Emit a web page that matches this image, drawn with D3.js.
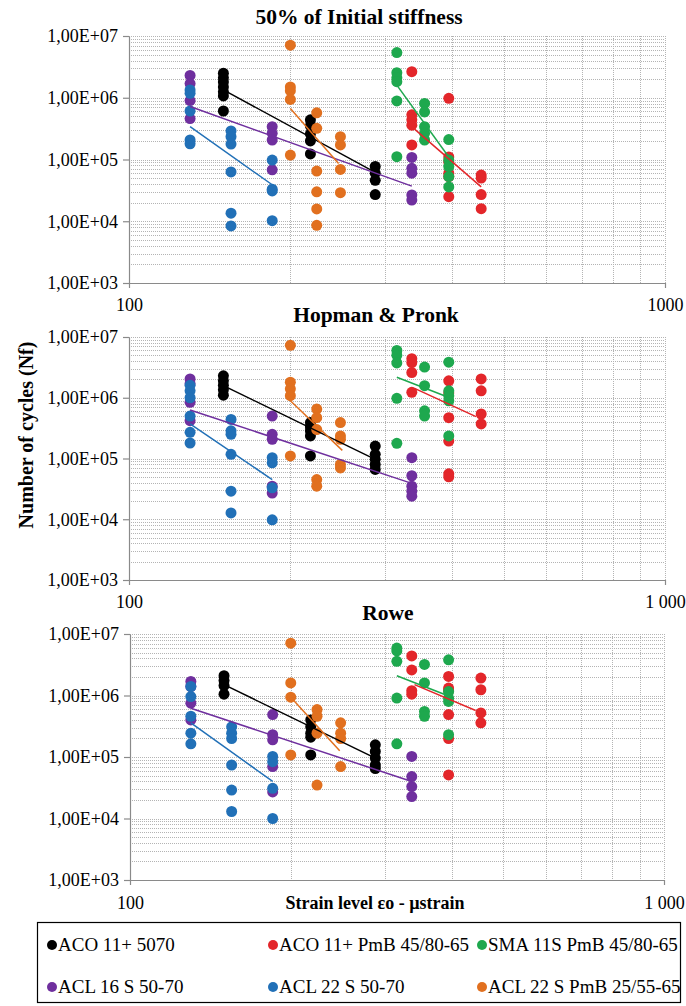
<!DOCTYPE html>
<html><head><meta charset="utf-8">
<script src="https://cdn.jsdelivr.net/npm/d3@7"></script>
<style>
html,body{margin:0;padding:0;background:#fff;}
svg{display:block;}
text{font-family:"Liberation Serif","Times New Roman",serif;fill:#000;}
</style></head><body>
<svg id="chart" width="686" height="1006"></svg>
<script>
// Fatigue results: number of cycles to failure vs. initial strain level, three failure criteria.
const seriesNames = ["ACO 11+ 5070", "ACO 11+ PmB 45/80-65", "SMA 11S PmB 45/80-65",
                     "ACL 16 S 50-70", "ACL 22 S 50-70", "ACL 22 S PmB 25/55-65"];
const panelTitles = ["50% of Initial stiffness", "Hopman & Pronk", "Rowe"];
const yTickValues = [1e3, 1e4, 1e5, 1e6, 1e7];
const xTickValues = [100, 1000];
const xTickLabels = [["100", "1000"], ["100", "1 000"], ["100", "1 000"]];

// [strain (µstrain), Nf] — 50% of initial stiffness
const stiffACO5070 = [[150,2.5e6],[150,2.1e6],[150,1.8e6],[150,1.5e6],[150,1.25e6],[150,1.07e6],[150,6.1e5],
  [218,4.4e5],[218,3.5e5],[218,2.6e5],[218,2.0e5],[218,1.23e5],[288,7.7e4],[288,6.0e4],[288,4.6e4],[288,2.7e4]];
const stiffACOPmB = [[337,2.64e6],[337,5.3e5],[337,4.4e5],[337,3.6e5],[337,1.72e5],
  [395,9.8e5],[395,1.1e5],[395,9.2e4],[395,6.0e4],[395,5.3e4],[395,2.5e4],[454,5.6e4],[454,5.0e4],[454,2.7e4],[454,1.6e4]];
const stiffSMA = [[316,5.4e6],[316,2.55e6],[316,2.1e6],[316,1.82e6],[316,8.9e5],[316,1.11e5],
  [356,8.1e5],[356,5.9e5],[356,3.4e5],[356,2.65e5],[356,2.07e5],[395,2.1e5],[395,9.8e4],[395,7.7e4],[395,5.3e4],[395,3.6e4]];
const stiffACL16 = [[130,2.3e6],[130,1.7e6],[130,9.0e5],[130,4.6e5],[185,3.4e5],[185,2.65e5],[185,2.07e5],[185,6.8e4],
  [337,1.08e5],[337,7.2e4],[337,6.0e4],[337,2.66e4],[337,2.2e4]];
const stiffACL22 = [[130,1.34e6],[130,1.18e6],[130,6.1e5],[130,2.07e5],[130,1.8e5],
  [155,2.9e5],[155,2.34e5],[155,1.78e5],[155,6.3e4],[155,1.35e4],[155,8.4e3],[185,9.8e4],[185,3.3e4],[185,3.1e4],[185,1.02e4]];
const stiffACL22PmB = [[200,7.1e6],[200,1.5e6],[200,1.3e6],[200,9.4e5],[200,1.18e5],
  [224,5.7e5],[224,3.2e5],[224,6.5e4],[224,3.0e4],[224,1.58e4],[224,8.6e3],[248,2.34e5],[248,1.72e5],[248,6.9e4],[248,2.9e4]];
const stiffTrends = [[[150,1.34e6],[288,6.2e4]], [[341,3.1e5],[454,3.6e4]], [[316,1.6e6],[395,1.1e5]],
  [[130,7.2e5],[337,3.7e4]], [[130,3.4e5],[185,3.9e4]], [[200,6.7e5],[246,8.6e4]]];

// Hopman & Pronk
const hpACO5070 = [[150,2.3e6],[150,1.9e6],[150,1.6e6],[150,1.35e6],[150,1.1e6],
  [218,3.9e5],[218,3.3e5],[218,2.85e5],[218,2.35e5],[218,1.1e5],[288,1.6e5],[288,1.17e5],[288,9.7e4],[288,8.0e4],[288,6.6e4]];
const hpACOPmB = [[337,4.4e6],[337,3.8e6],[337,2.6e6],[337,1.23e6],
  [395,1.9e6],[395,1.2e6],[395,4.7e5],[395,1.94e5],[395,5.6e4],[395,5.0e4],[454,2.04e6],[454,1.3e6],[454,5.4e5],[454,3.7e5]];
const hpSMA = [[316,6.0e6],[316,5.0e6],[316,3.75e6],[316,9.8e5],[316,1.78e5],
  [356,3.2e6],[356,1.58e6],[356,6.1e5],[356,5.0e5],[395,3.85e6],[395,1.3e6],[395,1.08e6],[395,8.9e5],[395,2.35e5]];
const hpACL16 = [[130,2.04e6],[130,1.7e6],[130,8.4e5],[130,4.2e5],[185,5.0e5],[185,2.5e5],[185,2.07e5],[185,3.5e4],[185,2.7e4],
  [337,1.03e5],[337,5.2e4],[337,3.5e4],[337,2.9e4],[337,2.4e4]];
const hpACL22 = [[130,1.6e6],[130,1.3e6],[130,1.0e6],[130,5.0e5],[130,2.7e5],[130,1.8e5],
  [155,4.4e5],[155,2.85e5],[155,2.5e5],[155,1.17e5],[155,2.9e4],[155,1.27e4],[185,1.03e5],[185,8.5e4],[185,3.3e4],[185,9.8e3]];
const hpACL22PmB = [[200,7.3e6],[200,1.8e6],[200,1.4e6],[200,1.08e6],[200,1.1e5],
  [224,6.5e5],[224,4.7e5],[224,3.0e5],[224,4.5e4],[224,3.5e4],[248,3.9e5],[248,2.35e5],[248,2.07e5],[248,8.0e4],[248,7.0e4]];
const hpTrends = [[[150,1.58e6],[288,9.7e4]], [[341,1.43e6],[444,4.9e5]], [[316,2.18e6],[391,1.05e6]],
  [[130,6.3e5],[337,3.9e4]], [[130,3.7e5],[185,4.5e4]], [[200,8.9e5],[250,1.36e5]]];

// Rowe
const roweACO5070 = [[150,2.1e6],[150,1.75e6],[150,1.45e6],[150,1.05e6],
  [218,4.0e5],[218,3.1e5],[218,2.44e5],[218,2.1e5],[218,1.08e5],[288,1.58e5],[288,1.23e5],[288,9.6e4],[288,7.4e4],[288,6.5e4]];
const roweACOPmB = [[337,4.4e6],[337,2.6e6],[337,1.2e6],[337,1.05e6],
  [395,2.04e6],[395,1.32e6],[395,1.2e6],[395,4.9e5],[395,2.0e5],[395,5.1e4],[454,1.92e6],[454,1.24e6],[454,5.2e5],[454,3.6e5]];
const roweSMA = [[316,5.9e6],[316,5.3e6],[316,3.6e6],[316,9.1e5],[316,1.64e5],
  [356,3.2e6],[356,1.6e6],[356,5.5e5],[356,4.6e5],[395,3.8e6],[395,1.16e6],[395,9.1e5],[395,8.0e5],[395,2.3e5]];
const roweACL16 = [[130,1.69e6],[130,1.4e6],[130,7.5e5],[130,4.0e5],[185,4.9e5],[185,2.3e5],[185,1.9e5],[185,7.0e4],[185,2.7e4],
  [337,1.02e5],[337,4.8e4],[337,3.3e4],[337,2.27e4]];
const roweACL22 = [[130,1.4e6],[130,9.6e5],[130,4.6e5],[130,2.44e5],[130,1.64e5],
  [155,3.1e5],[155,2.44e5],[155,2.0e5],[155,7.4e4],[155,2.9e4],[155,1.3e4],[185,1.02e5],[185,8.4e4],[185,3.1e4],[185,1.0e4]];
const roweACL22PmB = [[200,7.1e6],[200,1.6e6],[200,9.4e5],[200,1.08e5],
  [224,5.9e5],[224,4.6e5],[224,2.44e5],[224,3.5e4],[248,3.6e5],[248,2.44e5],[248,2.0e5],[248,7.0e4]];
const roweTrends = [[[150,1.5e6],[288,9.6e4]], [[341,1.5e6],[444,5.7e5]], [[316,2.1e6],[394,9.9e5]],
  [[130,6.2e5],[337,4.0e4]], [[130,3.6e5],[185,4.0e4]], [[200,9.4e5],[247,1.26e5]]];

const panels = [
  {title: panelTitles[0], points: [stiffACO5070, stiffACOPmB, stiffSMA, stiffACL16, stiffACL22, stiffACL22PmB], trends: stiffTrends},
  {title: panelTitles[1], points: [hpACO5070, hpACOPmB, hpSMA, hpACL16, hpACL22, hpACL22PmB], trends: hpTrends},
  {title: panelTitles[2], points: [roweACO5070, roweACOPmB, roweSMA, roweACL16, roweACL22, roweACL22PmB], trends: roweTrends}
];

const seriesColors = ["#000000", "#e3262a", "#1ea84e", "#6f2f9e", "#2170b7", "#e1701f"];
const layouts = [
  {left:129, right:665, top:36,  bottom:283, titleX:359, titleY:24,  xLabelY:311},
  {left:129, right:665, top:337, bottom:580, titleX:376, titleY:322, xLabelY:608},
  {left:130, right:664, top:634, bottom:880, titleX:388, titleY:620, xLabelY:909}
];

const svg = d3.select("#chart");
const fmtY = d => "1,00E+" + String(Math.round(Math.log10(d))).padStart(2, "0");

const gridValsY = [];
for (let e = 3; e < 7; e++) for (let m = 1; m < 10; m++) if (m * 10 ** e > 1e3) gridValsY.push(m * 10 ** e);
gridValsY.push(1e7);
const gridValsX = d3.range(200, 1001, 100);

panels.forEach((panel, i) => {
  const L = layouts[i];
  const x = d3.scaleLog().domain([100, 1000]).range([L.left, L.right]);
  const y = d3.scaleLog().domain([1e3, 1e7]).range([L.bottom, L.top]);
  const g = svg.append("g").attr("class", "panel");

  // dotted gridlines
  g.append("g").selectAll("line").data(gridValsY).join("line")
    .attr("x1", L.left).attr("x2", L.right)
    .attr("y1", d => Math.round(y(d)) + 0.5).attr("y2", d => Math.round(y(d)) + 0.5)
    .attr("stroke", "#b4b4b4").attr("stroke-dasharray", "1,1");
  g.append("g").selectAll("line").data(gridValsX).join("line")
    .attr("y1", L.top).attr("y2", L.bottom)
    .attr("x1", d => Math.round(x(d)) + 0.5).attr("x2", d => Math.round(x(d)) + 0.5)
    .attr("stroke", "#b4b4b4").attr("stroke-dasharray", "1,1");

  // axes
  const yAxis = g.append("g").attr("transform", `translate(${L.left},0)`)
    .call(d3.axisLeft(y).tickValues(yTickValues).tickFormat(fmtY).tickSize(6).tickSizeOuter(0).tickPadding(5));
  const xAxis = g.append("g").attr("transform", `translate(0,${L.bottom})`)
    .call(d3.axisBottom(x).tickValues(xTickValues).tickFormat((d, j) => xTickLabels[i][j]).tickSize(5).tickSizeOuter(0));
  [yAxis, xAxis].forEach(a => {
    a.select(".domain").attr("stroke", "#8a8a8a").attr("stroke-width", 1.2);
    a.selectAll(".tick line").attr("stroke", "#8a8a8a").attr("stroke-width", 1.2);
    a.selectAll("text").attr("font-family", '"Liberation Serif", serif').attr("font-size", 18).attr("fill", "#000");
  });
  xAxis.selectAll("text").attr("y", L.xLabelY - L.bottom).attr("dy", 0);

  // title
  g.append("text").attr("x", L.titleX).attr("y", L.titleY).attr("text-anchor", "middle")
    .attr("font-weight", "bold").attr("font-size", 21.5).text(panel.title);

  // data points
  panel.points.forEach((pts, s) => {
    g.append("g").selectAll("circle").data(pts).join("circle")
      .attr("cx", d => x(d[0])).attr("cy", d => y(d[1])).attr("r", 5.5)
      .attr("fill", seriesColors[s]);
  });

  // power trendlines
  const line = d3.line().x(d => x(d[0])).y(d => y(d[1]));
  panel.trends.forEach((t, s) => {
    g.append("path").attr("d", line(t)).attr("fill", "none")
      .attr("stroke", seriesColors[s]).attr("stroke-width", 1.5);
  });
});

// shared axis titles
svg.append("text").attr("transform", "translate(33,435) rotate(-90)").attr("text-anchor", "middle")
  .attr("font-weight", "bold").attr("font-size", 20).text("Number of cycles (Nf)");
svg.append("text").attr("x", 375).attr("y", 909).attr("text-anchor", "middle")
  .attr("font-weight", "bold").attr("font-size", 18).text("Strain level εo - µstrain");

// legend
const legend = svg.append("g");
legend.append("rect").attr("x", 37.5).attr("y", 922.5).attr("width", 643).attr("height", 80)
  .attr("fill", "#fff").attr("stroke", "#000").attr("stroke-width", 1.2);
const legCols = [52, 273, 482], legRows = [945, 987];
const items = legend.selectAll("g.item").data(seriesNames).join("g").attr("class", "item")
  .attr("transform", (d, k) => `translate(${legCols[k % 3]},${legRows[Math.floor(k / 3)]})`);
items.append("circle").attr("r", 5).attr("fill", (d, k) => seriesColors[k]);
items.append("text").attr("x", 6).attr("y", 6).attr("font-size", 19).text(d => d);
</script></body></html>
